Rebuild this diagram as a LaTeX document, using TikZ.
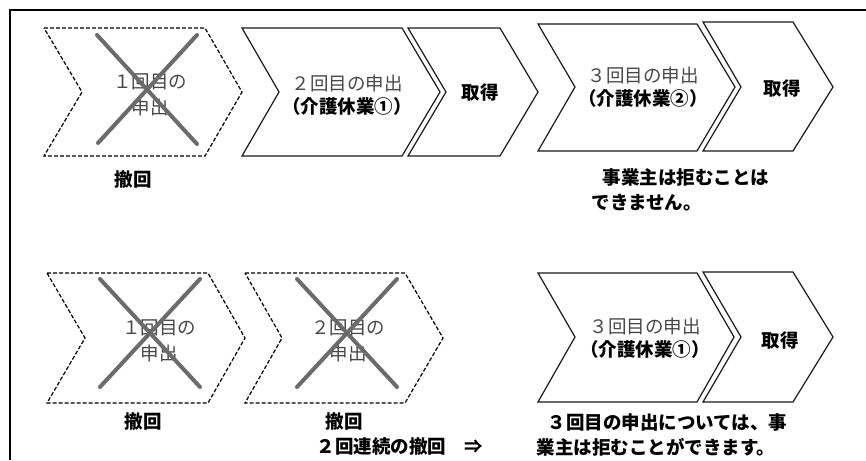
\documentclass[tikz,border=0pt]{standalone}
\usepackage{fontspec}
\setmainfont{Noto Sans CJK JP}
\usetikzlibrary{positioning}

\begin{document}
\begin{tikzpicture}[x = 1pt, y = -1pt,
	chev/.style = {black!90, line width = 1.2pt, line join = miter},
	chevcut/.style = {chev, black, dash pattern = on 4pt off 2pt},
	cross/.style = {black!58, line width = 4pt, line cap = round},
	mincho/.style = {align = center, text = black!72, font = \fontsize{18.5}{26}\selectfont},
	gothic/.style = {align = center, font = \fontsize{18.5}{23}\selectfont\bfseries},
	note/.style = {align = left, anchor = west, font = \fontsize{18.5}{25}\selectfont\bfseries}]
	\useasboundingbox (0, 0) rectangle (866, 460);
	\draw [black, line width = 1.6pt] (10, 460) -- (10, 10) -- (866, 10);

	% first case
	\draw [chevcut] (44, 28) -- (205, 28) -- (242, 92) -- (205, 156) -- (44, 156) -- (82, 92) -- cycle;
	\draw [chev] (242, 28) -- (402, 28) -- (440, 92) -- (402, 156) -- (242, 156) -- (279, 92) -- cycle;
	\draw [chev] (408, 28) -- (500, 28) -- (538, 92) -- (500, 156) -- (408, 156) -- (446, 92) -- cycle;
	\draw [chev] (538, 24) -- (697, 24) -- (735, 87) -- (697, 151) -- (538, 151) -- (575, 87) -- cycle;
	\draw [chev] (703, 22) -- (793, 22) -- (833, 87) -- (793, 151) -- (703, 151) -- (741, 87) -- cycle;
	\node [mincho] (firstA) at (150, 95) {１回目の\\申出};
	\node [gothic] (secondA) at (347, 95) {{\mdseries\color{black!72}２回目の申出}\\（介護休業①）};
	\node [gothic] (getA) at (480, 92) {取得};
	\node [gothic] (thirdA) at (643, 87) {{\mdseries\color{black!72}３回目の申出}\\（介護休業②）};
	\node [gothic] (getB) at (782, 88) {取得};
	\node [gothic] (backA) at (133, 180) {撤回};
	\node [note] (noteA) at (588, 190) {\hspace*{.6em}事業主は拒むことは\\できません。};
	\draw [cross] (97, 35) -- (197, 144);
	\draw [cross] (197, 35) -- (98, 143);

	% second case
	\draw [chevcut] (47, 273) -- (208, 273) -- (245, 338) -- (208, 403) -- (47, 403) -- (85, 338) -- cycle;
	\draw [chevcut] (245, 273) -- (405, 273) -- (443, 338) -- (405, 403) -- (245, 403) -- (282, 338) -- cycle;
	\draw [chev] (538, 273) -- (697, 273) -- (734, 337) -- (697, 402) -- (538, 402) -- (575, 337) -- cycle;
	\draw [chev] (703, 272) -- (793, 272) -- (833, 337) -- (793, 402) -- (703, 402) -- (741, 337) -- cycle;
	\node [mincho] (firstB) at (159, 341) {１回目の\\申出};
	\node [mincho] (secondB) at (348, 341) {２回目の\\申出};
	\node [gothic] (thirdB) at (645, 338) {{\mdseries\color{black!72}３回目の申出}\\（介護休業①）};
	\node [gothic] (getC) at (780, 340) {取得};
	\node [gothic] (backB) at (143, 422) {撤回};
	\node [note] (backC) at (313, 434) {\hspace*{.5em}撤回\\２回連続の撤回　⇒};
	\node [note] (noteB) at (533, 435) {\hspace*{.6em}３回目の申出については、事\\業主は拒むことができます。};
	\draw [cross] (100, 279) -- (200, 387);
	\draw [cross] (200, 279) -- (100, 387);
	\draw [cross] (297, 279) -- (397, 387);
	\draw [cross] (397, 279) -- (297, 387);
\end{tikzpicture}
\end{document}
